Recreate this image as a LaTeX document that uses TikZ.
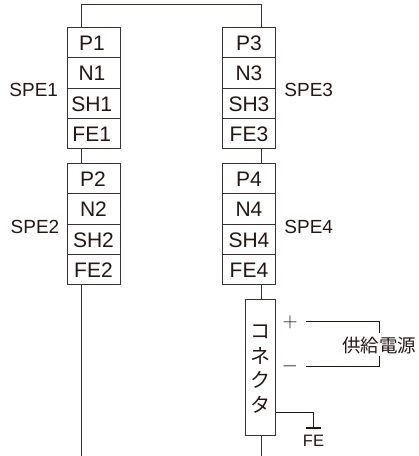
\documentclass[tikz,border=0pt]{standalone}
\usepackage{fontspec}
\setmainfont{Liberation Sans}
\newfontfamily\cjk{Noto Sans CJK JP}
\definecolor{ink}{HTML}{3A3230}
\definecolor{txt}{HTML}{231815}
\tikzset{
  x=1pt,y=-1pt,
  cell/.style={draw=ink,line width=0.9pt,minimum width=53pt,minimum height=30.3pt,inner sep=0pt,outer sep=0pt},
  celltext/.style={inner sep=0pt,text=txt,font=\fontsize{21}{21}\selectfont},
  wire/.style={draw=ink,line width=0.9pt},
  heavy/.style={draw=txt,line width=1.2pt},
  lab/.style={inner sep=0pt,text=txt,font=\fontsize{19}{19}\selectfont},
  sign/.style={inner sep=0pt,text=txt,font=\fontsize{20}{20}\selectfont},
  jp/.style={inner sep=0pt,text=txt,font=\cjk\fontsize{18.5}{19}\selectfont},
  kana/.style={inner sep=0pt,text=txt,font=\cjk\fontsize{20}{20}\selectfont},
}
\begin{document}
\begin{tikzpicture}
\useasboundingbox (0,0) rectangle (419,456);
% left column
\node[cell] (p1) at (93.5,42.7) {};
\node[cell] (n1) at (93.5,73) {};
\node[cell] (sh1) at (93.5,103.3) {};
\node[cell] (fe1) at (93.5,133.6) {};
\node[cell] (p2) at (93.5,178.7) {};
\node[cell] (n2) at (93.5,209) {};
\node[cell] (sh2) at (93.5,239.3) {};
\node[cell] (fe2) at (93.5,269.6) {};
% right column
\node[cell] (p3) at (249,42.7) {};
\node[cell] (n3) at (249,73) {};
\node[cell] (sh3) at (249,103.3) {};
\node[cell] (fe3) at (249,133.6) {};
\node[cell] (p4) at (249,178.7) {};
\node[cell] (n4) at (249,209) {};
\node[cell] (sh4) at (249,239.3) {};
\node[cell] (fe4) at (249,269.6) {};
% cell texts
\node[celltext] (tp1) at (92,43) {P1};
\node[celltext] (tn1) at (92,73) {N1};
\node[celltext] (tsh1) at (91.7,104.5) {SH1};
\node[celltext] (tfe1) at (91.7,134.5) {FE1};
\node[celltext] (tp2) at (93,179) {P2};
\node[celltext] (tn2) at (93.5,209.5) {N2};
\node[celltext] (tsh2) at (93.5,240) {SH2};
\node[celltext] (tfe2) at (93.5,270) {FE2};
\node[celltext] (tp3) at (249,43) {P3};
\node[celltext] (tn3) at (249,73) {N3};
\node[celltext] (tsh3) at (249,104.5) {SH3};
\node[celltext] (tfe3) at (249,134.5) {FE3};
\node[celltext] (tp4) at (249,179) {P4};
\node[celltext] (tn4) at (249,209.5) {N4};
\node[celltext] (tsh4) at (249,240) {SH4};
\node[celltext] (tfe4) at (249,270) {FE4};
% connector block
\node[draw=ink,line width=0.9pt,minimum width=30pt,minimum height=136.2pt,inner sep=0pt,outer sep=0pt] (conn) at (260.7,367.6) {};
\node[kana] (ko) at (260.7,332) {コ};
\node[kana] (ne) at (260.7,355.5) {ネ};
\node[kana] (ku) at (260.7,380) {ク};
\node[kana] (ta) at (260.7,405) {タ};
% labels
\node[lab] (spe1) at (33.7,90) {SPE1};
\node[lab] (spe2) at (35,227) {SPE2};
\node[lab] (spe3) at (308.7,90) {SPE3};
\node[lab] (spe4) at (308.7,227) {SPE4};
\node[sign] (plus) at (290,322) {$+$};
\node[sign] (minus) at (290,366.5) {$-$};
\node[jp] (psu) at (379,345) {供給電源};
\node[inner sep=0pt,text=txt,font=\fontsize{16.5}{16.5}\selectfont] (felab) at (313.5,440.5) {FE};
% free ends
\coordinate (tl) at (81.5,4.5);
\coordinate (tr) at (261,4.5);
\coordinate (bl) at (81.5,456);
\coordinate (br) at (261,456);
\coordinate (up1) at (306,321.5);
\coordinate (up2) at (379.5,321.5);
\coordinate (up3) at (379.5,333);
\coordinate (lo1) at (306,366.5);
\coordinate (lo2) at (379.5,366.5);
\coordinate (lo3) at (379.5,356);
\coordinate (g1) at (313.3,412.5);
\coordinate (g2) at (313.3,428);
\coordinate (gl) at (306,428);
\coordinate (gr) at (321,428);
% wires
\draw[wire] (p1.north -| tl) -- (tl) -- (tr) -- (p3.north -| tr);
\draw[wire] (fe1.south -| tl) -- (p2.north -| tl);
\draw[wire] (fe3.south -| tr) -- (p4.north -| tr);
\draw[wire] (fe2.south -| bl) -- (bl);
\draw[wire] (fe4.south -| tr) -- (conn.north -| tr);
\draw[wire] (conn.south -| br) -- (br);
\draw[heavy] (up1) -- (up2) -- (up3);
\draw[heavy] (lo1) -- (lo2) -- (lo3);
\draw[heavy] (conn.east |- g1) -- (g1) -- (g2);
\draw[heavy] (gl) -- (gr);
\end{tikzpicture}
\end{document}
